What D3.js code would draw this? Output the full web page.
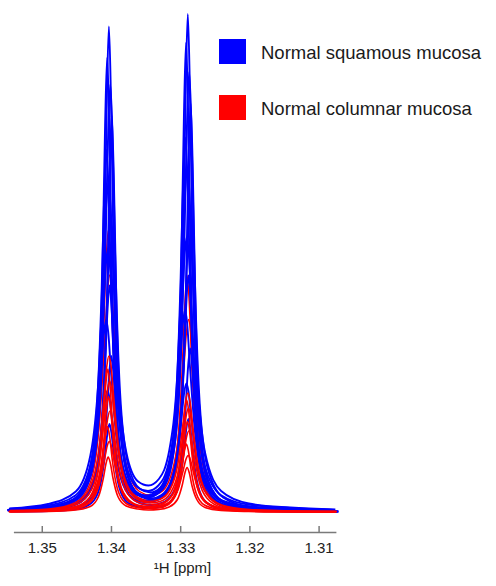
<!DOCTYPE html>
<html>
<head>
<meta charset="utf-8">
<script src="https://cdn.jsdelivr.net/npm/d3@7"></script>
<style>
  body { margin: 0; background: #fff; }
  svg { display: block; font-family: Arial, "Liberation Sans", sans-serif; }
</style>
</head>
<body>
<svg id="spectra" width="496" height="586"></svg>
<script>
// chemical shift grid (ppm), left to right
var ppm = [1.3546, 1.3490, 1.3450, 1.3429, 1.3417, 1.3410, 1.3406, 1.3403, 1.3400, 1.3396, 1.3389, 1.3377, 1.3360, 1.3345,
           1.3330, 1.3315, 1.3303, 1.3296, 1.3292, 1.3289, 1.3286, 1.3282, 1.3275, 1.3263, 1.3240, 1.3200, 1.3140, 1.3075];

// intensities (a.u.) on the grid above, one row per spectrum
var squamous = [
  [3, 8, 24, 73, 210, 506, 826, 971, 826, 498, 208, 76, 37, 31, 39, 78, 213, 520, 847, 996, 847, 509, 211, 74, 23, 8, 3, 2],
  [3, 7, 23, 68, 196, 474, 773, 909, 773, 466, 195, 71, 34, 29, 37, 73, 201, 490, 799, 939, 798, 480, 199, 69, 22, 7, 3, 2],
  [4, 10, 31, 89, 243, 523, 762, 855, 763, 516, 242, 93, 46, 39, 49, 96, 249, 539, 785, 880, 784, 529, 246, 91, 29, 10, 4, 2],
  [3, 6, 20, 59, 171, 414, 675, 793, 675, 407, 170, 62, 30, 25, 32, 64, 175, 427, 696, 818, 696, 418, 174, 60, 19, 6, 3, 1],
  [3, 9, 26, 76, 206, 443, 646, 724, 646, 437, 205, 79, 39, 33, 42, 81, 212, 459, 668, 749, 668, 451, 210, 77, 25, 8, 3, 2],
  [7, 16, 41, 113, 272, 484, 615, 657, 615, 481, 272, 119, 61, 53, 66, 123, 284, 508, 643, 687, 642, 500, 281, 117, 42, 17, 9, 5],
  [3, 7, 21, 62, 169, 363, 529, 594, 529, 358, 168, 65, 32, 27, 34, 67, 173, 376, 547, 613, 547, 369, 172, 63, 20, 7, 3, 1],
  [6, 13, 33, 90, 218, 387, 492, 526, 492, 384, 218, 95, 49, 42, 53, 99, 228, 407, 515, 550, 515, 401, 225, 93, 34, 15, 8, 4],
  [2, 5, 16, 47, 129, 277, 404, 453, 404, 273, 128, 50, 25, 21, 26, 51, 134, 290, 421, 473, 421, 284, 132, 49, 16, 5, 2, 1],
  [4, 10, 24, 66, 159, 283, 359, 384, 360, 281, 159, 70, 36, 31, 39, 72, 167, 299, 378, 404, 378, 294, 165, 69, 26, 12, 7, 4],
  [2, 4, 11, 33, 89, 191, 278, 312, 278, 188, 88, 34, 17, 14, 18, 36, 92, 200, 292, 327, 291, 197, 91, 34, 11, 4, 1, 1],
  [3, 6, 15, 42, 100, 179, 227, 243, 227, 177, 101, 44, 23, 20, 25, 46, 106, 190, 241, 257, 241, 188, 105, 44, 17, 7, 4, 2],
  [1, 2, 6, 18, 50, 108, 157, 176, 157, 106, 50, 19, 10, 8, 10, 20, 53, 114, 166, 186, 166, 112, 52, 19, 6, 2, 1, 0]
];
var squamousShift = [0, 0.00025, -0.0002, -0.0004, 0.00035, 0.00008, -0.0003, 0.00015, -0.0001, 0.0004, -0.00035, 0.0002, -0.00008];

var columnar = [
  [3, 6, 20, 58, 160, 344, 502, 563, 502, 339, 159, 61, 29, 23, 28, 52, 134, 290, 422, 473, 422, 285, 133, 49, 16, 5, 2, 1],
  [4, 9, 29, 81, 196, 349, 443, 474, 444, 346, 195, 84, 41, 34, 39, 71, 160, 285, 361, 385, 360, 281, 158, 66, 22, 8, 3, 2],
  [3, 6, 19, 53, 129, 230, 292, 312, 293, 228, 129, 55, 27, 21, 25, 44, 99, 176, 223, 238, 223, 174, 98, 41, 14, 5, 2, 1],
  [1, 3, 10, 30, 81, 175, 255, 286, 255, 172, 81, 31, 14, 11, 13, 25, 64, 137, 200, 224, 199, 135, 63, 23, 8, 3, 1, 1],
  [2, 5, 16, 45, 108, 193, 245, 262, 245, 191, 108, 46, 23, 18, 21, 38, 86, 154, 195, 208, 194, 151, 85, 36, 12, 4, 2, 1],
  [1, 3, 8, 24, 65, 141, 206, 231, 206, 139, 65, 25, 12, 9, 11, 20, 52, 111, 162, 181, 162, 109, 51, 19, 6, 2, 1, 0],
  [2, 4, 12, 34, 83, 149, 189, 202, 189, 147, 83, 36, 18, 14, 17, 30, 67, 120, 152, 162, 152, 118, 66, 28, 9, 3, 1, 1],
  [1, 2, 6, 18, 48, 104, 152, 171, 152, 103, 48, 18, 9, 7, 8, 15, 39, 83, 121, 136, 121, 82, 38, 14, 5, 2, 1, 0],
  [1, 3, 9, 24, 58, 104, 132, 141, 132, 103, 58, 25, 12, 10, 12, 21, 47, 84, 106, 113, 106, 83, 46, 19, 7, 2, 1, 0],
  [0, 1, 4, 11, 31, 68, 98, 110, 98, 67, 31, 12, 6, 4, 5, 10, 25, 54, 79, 89, 79, 53, 25, 9, 3, 1, 0, 0]
];
var columnarShift = [0.0001, -0.00012, 0, 0.00015, -0.0001, 0.00005, -0.00015, 0.0002, -0.00005, 0.0001];

var xTicks = [1.35, 1.34, 1.33, 1.32, 1.31];
var legendLabels = ["Normal squamous mucosa", "Normal columnar mucosa"];
var legendColors = ["#0000ff", "#ff0000"];

var svg = d3.select("#spectra");

var x = d3.scaleLinear().domain([1.3541, 1.3075]).range([13.4, 335.9]);
var y = d3.scaleLinear().domain([0, 1000]).range([512, 12]);

var line = d3.line().curve(d3.curveMonotoneX);

function drawSpectra(rows, shifts, color, width) {
  var items = rows.map(function(r, i) { return { values: r, shift: shifts[i] }; });
  svg.append("g")
    .selectAll("path")
    .data(items)
    .enter()
    .append("path")
      .attr("fill", "none")
      .attr("stroke", color)
      .attr("stroke-width", width)
      .attr("stroke-linejoin", "round")
      .attr("d", function(d) {
        return line(d.values.map(function(v, j) { return [x(ppm[j] + d.shift), y(v)]; }));
      });
}

// a couple of the columnar spectra sit behind the squamous bundle
drawSpectra(columnar.slice(0, 2), columnarShift.slice(0, 2), legendColors[1], 1.5);
drawSpectra(squamous, squamousShift, legendColors[0], 1.9);
drawSpectra(columnar.slice(2), columnarShift.slice(2), legendColors[1], 1.6);

// x axis, ticks pointing up
var axis = d3.axisBottom(x)
  .tickValues(xTicks)
  .tickFormat(d3.format(".2f"))
  .tickSizeInner(-6)
  .tickSizeOuter(0)
  .tickPadding(10);

var gx = svg.append("g")
  .attr("transform", "translate(0,532)")
  .call(axis)
  .attr("font-family", "Arial, 'Liberation Sans', sans-serif")
  .attr("font-size", 15);
gx.select(".domain").attr("stroke", "#7a7a7a").attr("stroke-width", 1.5);
gx.selectAll(".tick line").attr("stroke", "#7a7a7a").attr("stroke-width", 1.5);
gx.selectAll(".tick text").attr("fill", "#222");

svg.append("text")
  .attr("x", 182.5)
  .attr("y", 573)
  .attr("text-anchor", "middle")
  .attr("font-size", 15)
  .attr("fill", "#222")
  .text("\u00B9H [ppm]");

// legend
svg.selectAll(".legend-box")
  .data(legendLabels)
  .enter()
  .append("rect")
    .attr("class", "legend-box")
    .attr("x", 219)
    .attr("y", function(d, i) { return 39 + i * 56; })
    .attr("width", 27)
    .attr("height", 25)
    .attr("fill", function(d, i) { return legendColors[i]; });

svg.selectAll(".legend-label")
  .data(legendLabels)
  .enter()
  .append("text")
    .attr("class", "legend-label")
    .attr("x", 261)
    .attr("y", function(d, i) { return 59.3 + i * 56; })
    .attr("font-size", 18.5)
    .attr("fill", "#1a1a1a")
    .text(function(d) { return d; });
</script>
</body>
</html>
